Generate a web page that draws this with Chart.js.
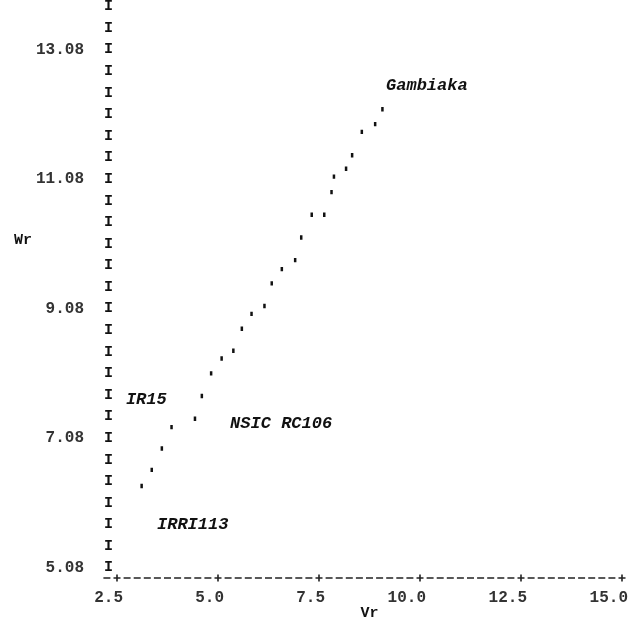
<!DOCTYPE html>
<html>
<head>
<meta charset="utf-8">
<script src="https://cdn.jsdelivr.net/npm/chart.js@4.4.1/dist/chart.umd.min.js"></script>
<style>
  html, body { margin: 0; padding: 0; background: #fff; }
</style>
</head>
<body>
<canvas id="plot" width="633" height="626"></canvas>
<script>
// Vr / Wr values
const vr = [3.11, 3.36, 3.61, 3.85, 4.43, 4.60, 4.83, 5.09, 5.38, 5.59, 5.83, 6.15, 6.33,
            6.58, 6.91, 7.06, 7.32, 7.63, 7.81, 7.87, 8.17, 8.32, 8.56, 8.89, 9.07];
const wr = [6.34, 6.59, 6.92, 7.25, 7.38, 7.73, 8.08, 8.31, 8.43, 8.77, 9.00, 9.12, 9.47,
            9.69, 9.83, 10.18, 10.53, 10.53, 10.88, 11.12, 11.24, 11.45, 11.81, 11.93, 12.16];

// variety labels, anchored at the (Vr, Wr) of their left edge
const varietyNames = ['Gambiaka', 'IR15', 'NSIC RC106', 'IRRI113'];
const varietyVr = [9.16, 2.72, 5.30, 3.49];
const varietyWr = [12.53, 7.67, 7.31, 5.74];

const xTicks = [2.5, 5.0, 7.5, 10.0, 12.5, 15.0];
const yTicks = [5.08, 7.08, 9.08, 11.08, 13.08];
const yRowStep = 1 / 3;   // one printer line
const yMin = 4.92, yMax = 13.747;

const MONO = "'Liberation Mono', 'DejaVu Sans Mono', monospace";

// rows of the 'I' column
const yRows = [];
for (let v = yTicks[0]; v <= yMax + 0.001; v += yRowStep) yRows.push(v);

// line-printer style x axis + text annotations
const printerAxis = {
    id: 'printerAxis',
    afterDatasetsDraw(chart) {
        const { ctx, chartArea } = chart;
        const x = chart.scales.x, y = chart.scales.y;
        const base = chartArea.bottom;
        const px = xTicks.map(v => x.getPixelForValue(v));
        const cell = (px[1] - px[0]) / 10;

        ctx.save();
        ctx.strokeStyle = '#222';
        ctx.lineWidth = 1.6;
        ctx.beginPath();
        const nCells = (px.length - 1) * 10;
        for (let k = -1; k <= nCells; k++) {
            const cx = px[0] + k * cell;
            if (k >= 0 && k % 10 === 0) {
                ctx.moveTo(cx - 3.5, base); ctx.lineTo(cx + 3.5, base);
                ctx.moveTo(cx, base - 3.5); ctx.lineTo(cx, base + 3.5);
            } else {
                ctx.moveTo(cx - 3.5, base); ctx.lineTo(cx + 3.5, base);
            }
        }
        ctx.stroke();

        ctx.fillStyle = '#333';
        ctx.font = `bold 16px ${MONO}`;
        ctx.textBaseline = 'middle';
        ctx.textAlign = 'right';
        xTicks.forEach((v, i) => ctx.fillText(v.toFixed(1), px[i] + 6, base + 20));

        ctx.fillStyle = '#111';
        ctx.font = `bold 15px ${MONO}`;
        ctx.textAlign = 'center';
        ctx.fillText('Vr', (chartArea.left + chartArea.right) / 2, base + 35);
        ctx.textAlign = 'left';
        ctx.fillText('Wr', 14, 240);

        ctx.font = `italic bold 17px ${MONO}`;
        varietyNames.forEach((name, i) => {
            ctx.fillText(name, x.getPixelForValue(varietyVr[i]), y.getPixelForValue(varietyWr[i]));
        });
        ctx.restore();
    }
};

const tickFont = { family: MONO, size: 16, weight: 'bold' };

// keep the row labels from pushing the plot area down
const noPad = a => { a.paddingTop = 0; a.paddingBottom = 0; };

new Chart(document.getElementById('plot'), {
    type: 'scatter',
    data: {
        datasets: [{
            data: vr.map((v, i) => ({ x: v, y: wr[i] })),
            pointStyle: 'line',
            rotation: 90,
            radius: 2.2,
            borderWidth: 2.5,
            borderColor: '#111',
            backgroundColor: '#111'
        }]
    },
    options: {
        responsive: false,
        animation: false,
        layout: { padding: { top: 6, right: 11, bottom: 48, left: 0 } },
        plugins: {
            legend: { display: false },
            tooltip: { enabled: false }
        },
        scales: {
            x: {
                type: 'linear',
                min: 2.5,
                max: 15,
                display: false
            },
            y: {
                type: 'linear',
                position: 'left',
                weight: 0,
                min: yMin,
                max: yMax,
                grid: { display: false, drawTicks: false },
                border: { display: false },
                afterBuildTicks: a => { a.ticks = yRows.map(v => ({ value: v })); },
                afterFit: a => { a.width = 27; noPad(a); },
                ticks: {
                    autoSkip: false,
                    padding: 4,
                    color: '#111',
                    font: { family: MONO, size: 15, weight: 'bold' },
                    callback: () => 'I'
                }
            },
            yNum: {
                type: 'linear',
                position: 'left',
                weight: 1,
                min: yMin,
                max: yMax,
                grid: { display: false, drawTicks: false },
                border: { display: false },
                afterBuildTicks: a => { a.ticks = yTicks.map(v => ({ value: v })); },
                afterFit: a => { a.width = 90; noPad(a); },
                ticks: {
                    autoSkip: false,
                    padding: 6,
                    color: '#333',
                    font: tickFont,
                    callback: v => v.toFixed(2)
                }
            }
        }
    },
    plugins: [printerAxis]
});
</script>
</body>
</html>
